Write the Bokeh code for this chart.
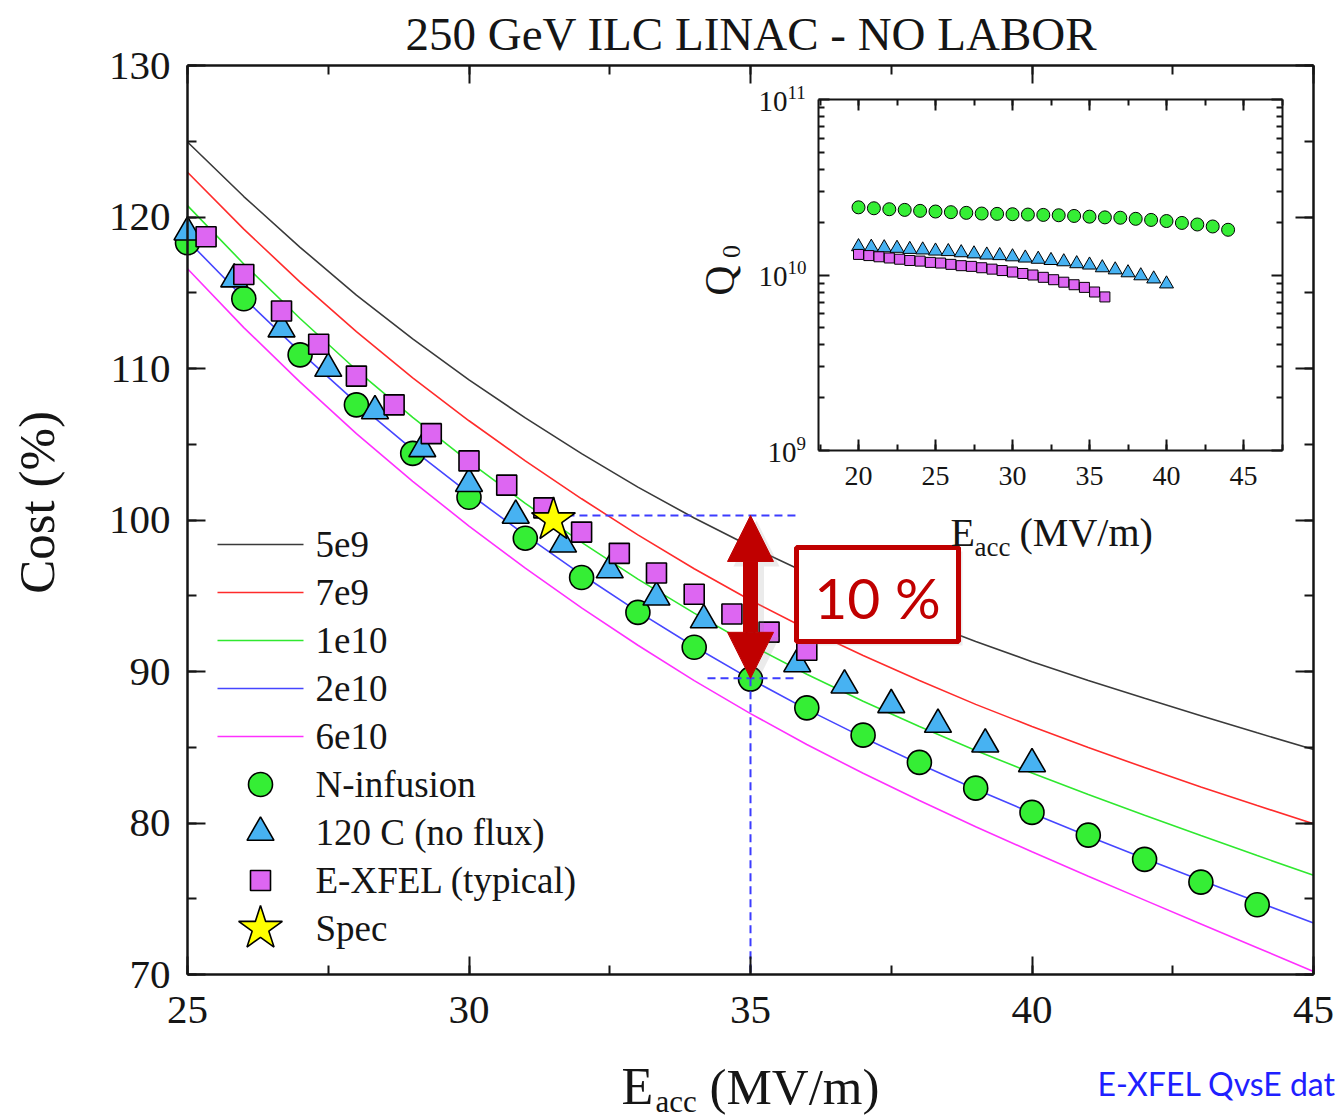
import math
from bokeh.plotting import figure
from bokeh.models import (Range1d, LinearAxis, LogAxis, LogScale, SingleIntervalTicker,
                          FixedTicker, Label, Arrow, NormalHead, CustomJSTickFormatter)
from bokeh.embed import file_html
from bokeh.resources import INLINE

# ---------------- data ----------------
# relative linac cost (%) versus gradient, one curve per Q0
e_curve = [25, 26, 27, 28, 29, 30, 31, 32, 33, 34, 35, 36, 37, 38, 39, 40, 41, 42, 43, 44, 45]
cost_q5e9 = [124.95, 121.35, 118.00, 114.85, 111.95, 109.25, 106.74, 104.38, 102.17, 100.13, 98.25,
             96.50, 94.90, 93.40, 91.98, 90.65, 89.41, 88.23, 87.08, 85.95, 84.85]
cost_q7e9 = [122.95, 119.20, 115.70, 112.43, 109.38, 106.55, 103.90, 101.40, 99.02, 96.78, 94.70,
             92.80, 91.05, 89.40, 87.83, 86.37, 84.98, 83.66, 82.37, 81.15, 79.95]
cost_q1e10 = [120.75, 116.90, 113.30, 109.90, 106.77, 103.85, 101.10, 98.52, 96.10, 93.85, 91.75,
              89.82, 88.04, 86.37, 84.79, 83.30, 81.88, 80.51, 79.17, 77.85, 76.55]
cost_q2e10 = [118.45, 114.65, 111.10, 107.75, 104.65, 101.75, 99.00, 96.40, 93.95, 91.65, 89.50,
              87.50, 85.65, 83.90, 82.23, 80.65, 79.13, 77.66, 76.22, 74.80, 73.40]
cost_q6e10 = [116.58, 112.70, 109.10, 105.70, 102.55, 99.60, 96.82, 94.20, 91.73, 89.40, 87.22,
              85.18, 83.28, 81.48, 79.75, 78.10, 76.48, 74.91, 73.34, 71.77, 70.20]
curve_labels = ["5e9", "7e9", "1e10", "2e10", "6e10"]
curve_colors = ["#3a3a3a", "#ff2b2b", "#2fe82f", "#4646ff", "#ff30ff"]

# cost using measured Q0(E) of each cavity treatment
e_ninf = [25, 26, 27, 28, 29, 30, 31, 32, 33, 34, 35, 36, 37, 38, 39, 40, 41, 42, 43, 44]
cost_ninf = [118.3, 114.6, 110.9, 107.6, 104.4, 101.5, 98.8, 96.2, 93.9, 91.6, 89.5,
             87.6, 85.8, 84.0, 82.3, 80.7, 79.2, 77.6, 76.1, 74.6]
e_120c = [25.0, 25.83, 26.67, 27.5, 28.33, 29.17, 30.0, 30.83, 31.67, 32.5, 33.33, 34.17,
          35.0, 35.83, 36.67, 37.5, 38.33, 39.17, 40.0]
cost_120c = [119.0, 115.9, 112.6, 110.0, 107.2, 104.7, 102.4, 100.3, 98.4, 96.7, 94.9, 93.4,
             92.0, 90.5, 89.1, 87.8, 86.5, 85.2, 83.9]
e_xfel = [25.33, 26.0, 26.67, 27.33, 28.0, 28.67, 29.33, 30.0, 30.67, 31.33, 32.0, 32.67,
          33.33, 34.0, 34.67, 35.33, 36.0]
cost_xfel = [118.7, 116.2, 113.8, 111.6, 109.5, 107.6, 105.7, 103.9, 102.3, 100.8, 99.2, 97.8,
             96.5, 95.1, 93.8, 92.6, 91.4]
spec_e = [31.5]
spec_cost = [100.0]
ref_hi = 100.3     # spec cost level
ref_lo = 89.55     # N-infusion cost at 35 MV/m
ref_e = 35.0

# inset: Q0 versus gradient (Q0 in units of 1e10)
q_e_ninf = [20, 21, 22, 23, 24, 25, 26, 27, 28, 29, 30, 31, 32, 33, 34, 35, 36, 37, 38, 39,
            40, 41, 42, 43, 44]
q_ninf = [2.43, 2.40, 2.37, 2.35, 2.32, 2.30, 2.28, 2.26, 2.24, 2.23, 2.22, 2.21, 2.20, 2.19,
          2.17, 2.15, 2.13, 2.12, 2.09, 2.06, 2.03, 1.98, 1.94, 1.89, 1.81]
q_e_120c = [20.0, 20.83, 21.67, 22.5, 23.33, 24.17, 25.0, 25.83, 26.67, 27.5, 28.33, 29.17,
            30.0, 30.83, 31.67, 32.5, 33.33, 34.17, 35.0, 35.83, 36.67, 37.5, 38.33, 39.17, 40.0]
q_120c = [1.45, 1.44, 1.43, 1.42, 1.40, 1.39, 1.37, 1.36, 1.34, 1.32, 1.30, 1.29, 1.27, 1.25,
          1.23, 1.21, 1.19, 1.16, 1.14, 1.10, 1.07, 1.03, 0.99, 0.95, 0.89]
q_e_xfel = [20.0, 20.67, 21.33, 22.0, 22.67, 23.33, 24.0, 24.67, 25.33, 26.0, 26.67, 27.33,
            28.0, 28.67, 29.33, 30.0, 30.67, 31.33, 32.0, 32.67, 33.33, 34.0, 34.67, 35.33, 36.0]
q_xfel = [1.31, 1.29, 1.27, 1.25, 1.23, 1.21, 1.20, 1.18, 1.17, 1.15, 1.13, 1.12, 1.10, 1.08,
          1.06, 1.04, 1.02, 1.00, 0.97, 0.94, 0.91, 0.88, 0.85, 0.80, 0.75]

# ---------------- geometry ----------------
# The drawing frame covers the whole canvas; the main plot box sits at
# FL..FR x FT..FB pixels and all axes are drawn at fixed locations.
W, H = 1338, 1120
FL, FR, FT, FB = 187, 1313, 65, 974
X_LO, X_HI, Y_LO, Y_HI = 25, 45, 70, 130


def mx(px):
    return X_LO + (px - FL) * (X_HI - X_LO) / (FR - FL)


def my(py):
    return Y_LO + (FB - py) * (Y_HI - Y_LO) / (FB - FT)


# inset placement: pixel columns of E=20 and E=45, pixel rows of Q=1e11 and Q=1e9
IX20, IX45, IQ11, IQ9 = 858, 1243, 99, 450
IBOX_L, IBOX_R = 818, 1282
ix_per_px = 25.0 / (IX45 - IX20)
dec_per_px = 2.0 / (IQ9 - IQ11)


def ix(px):
    return 20 + (px - IX20) * ix_per_px


def iq(py):
    return 10 ** (9 + (IQ9 - py) * dec_per_px)


SERIF = "Liberation Serif"
RED = "#c00000"
DASH_BLUE = "#3c3cff"
INK = "#151515"

p = figure(width=W, height=H, x_range=Range1d(mx(0), mx(W)), y_range=Range1d(my(H), my(0)),
           output_backend="svg", toolbar_location=None,
           x_axis_location=None, y_axis_location=None,
           min_border_left=0, min_border_right=0, min_border_top=0, min_border_bottom=0,
           background_fill_color="white", border_fill_color="white")
p.outline_line_color = None
p.grid.visible = False

p.extra_x_ranges = {"ix": Range1d(ix(0), ix(W))}
p.extra_y_ranges = {"iq": Range1d(iq(H), iq(0))}
p.extra_y_scales = {"iq": LogScale()}

blank = CustomJSTickFormatter(code="return ''")


def style_axis(ax, labels, major=18, minor=9, width=2.5, font="41px", standoff=16):
    ax.axis_line_width = width
    ax.axis_line_color = INK
    ax.major_tick_in = major
    ax.major_tick_out = 0
    ax.minor_tick_in = minor
    ax.minor_tick_out = 0
    ax.major_tick_line_width = 2
    ax.minor_tick_line_width = 2
    ax.major_tick_line_color = INK
    ax.minor_tick_line_color = INK
    ax.major_label_text_font = SERIF
    ax.major_label_text_color = INK
    if labels:
        ax.major_label_text_font_size = font
        ax.major_label_standoff = standoff
    else:
        ax.formatter = blank
        ax.major_label_standoff = 0


def text(x, y, s, size, font=SERIF, color=INK, align="left", angle=0.0, **kw):
    p.add_layout(Label(x=x, y=y, text=s, text_font=font, text_font_size=size, text_color=color,
                       text_align=align, text_baseline="middle", angle=angle, **kw))


# ---------------- main axes (box) ----------------
xb = LinearAxis(fixed_location=Y_LO, bounds=(X_LO, X_HI),
                ticker=SingleIntervalTicker(interval=5, num_minor_ticks=2))
style_axis(xb, True, standoff=22)
xt = LinearAxis(fixed_location=Y_HI, bounds=(X_LO, X_HI),
                ticker=SingleIntervalTicker(interval=5, num_minor_ticks=2))
style_axis(xt, False)
yl = LinearAxis(fixed_location=X_LO, bounds=(Y_LO, Y_HI),
                ticker=SingleIntervalTicker(interval=10, num_minor_ticks=2))
style_axis(yl, True, standoff=17)
yr = LinearAxis(fixed_location=X_HI, bounds=(Y_LO, Y_HI),
                ticker=SingleIntervalTicker(interval=10, num_minor_ticks=2))
style_axis(yr, False)
p.add_layout(xb, "below")
p.add_layout(xt, "above")
p.add_layout(yl, "left")
p.add_layout(yr, "right")

# ---------------- cost curves ----------------
for ys, col in zip([cost_q5e9, cost_q7e9, cost_q1e10, cost_q2e10, cost_q6e10], curve_colors):
    p.line(e_curve, ys, line_color=col, line_width=1.6)

# ---------------- measured points ----------------
C_GREEN, C_BLUE, C_VIOLET = "#35ee35", "#47b2f2", "#dd66f2"
p.scatter(e_ninf, cost_ninf, marker="circle", size=24, fill_color=C_GREEN,
          line_color="black", line_width=1.6)
p.scatter(e_120c, cost_120c, marker="triangle", size=27, fill_color=C_BLUE,
          line_color="black", line_width=1.6)
p.scatter(e_xfel, cost_xfel, marker="square", size=20, fill_color=C_VIOLET,
          line_color="black", line_width=1.6)

# reference lines: spec level, N-infusion level at 35 MV/m
p.line([spec_e[0], mx(795)], [ref_hi, ref_hi], line_color=DASH_BLUE, line_width=2, line_dash="8 5")
p.line([mx(707), mx(795)], [ref_lo, ref_lo], line_color=DASH_BLUE, line_width=2, line_dash="8 5")
p.line([ref_e, ref_e], [ref_lo, Y_LO], line_color=DASH_BLUE, line_width=2, line_dash="8 5")

p.scatter(spec_e, spec_cost, marker="star", size=46, fill_color="#ffff00",
          line_color="black", line_width=1.6)

# 10 % double arrow with a soft shadow
shadow_dx, shadow_dy = mx(FL + 6) - mx(FL), my(FT + 5) - my(FT)
p.add_layout(Arrow(start=NormalHead(size=46, fill_color="#909090", fill_alpha=0.18, line_alpha=0.0),
                   end=NormalHead(size=46, fill_color="#909090", fill_alpha=0.18, line_alpha=0.0),
                   x_start=ref_e + shadow_dx, y_start=ref_hi + shadow_dy,
                   x_end=ref_e + shadow_dx, y_end=ref_lo + shadow_dy,
                   line_color="#909090", line_alpha=0.18, line_width=15))
p.add_layout(Arrow(start=NormalHead(size=46, fill_color=RED, line_color=RED, line_width=1),
                   end=NormalHead(size=46, fill_color=RED, line_color=RED, line_width=1),
                   x_start=ref_e, y_start=ref_hi, x_end=ref_e, y_end=ref_lo,
                   line_color=RED, line_width=15))

# callout box
p.quad(left=mx(800), right=mx(962), top=my(551), bottom=my(645),
       fill_color="#999999", fill_alpha=0.2, line_color=None)
p.quad(left=mx(796), right=mx(958), top=my(547), bottom=my(641),
       fill_color="white", line_color=RED, line_width=5)
text(mx(877), my(596), "10 %", "57px", font="Lato", color=RED, align="center")

# ---------------- inset: Q0 vs Eacc ----------------
p.quad(left=ix(IBOX_L), right=ix(IBOX_R), bottom=1e9, top=1e11, x_range_name="ix",
       y_range_name="iq", fill_color="white", line_color=None)

ibounds = (ix(IBOX_L), ix(IBOX_R))
q_minor = [k * 1e9 for k in range(2, 10)] + [k * 1e10 for k in range(2, 10)]

ib = LinearAxis(x_range_name="ix", y_range_name="iq", fixed_location=1e9, bounds=ibounds,
                ticker=SingleIntervalTicker(interval=5, num_minor_ticks=2))
style_axis(ib, True, major=11, minor=6, width=2, font="28px", standoff=16)
it = LinearAxis(x_range_name="ix", y_range_name="iq", fixed_location=1e11, bounds=ibounds,
                ticker=SingleIntervalTicker(interval=5, num_minor_ticks=2))
style_axis(it, False, major=11, minor=6, width=2)
il = LogAxis(x_range_name="ix", y_range_name="iq", fixed_location=ix(IBOX_L), bounds=(1e9, 1e11),
             ticker=FixedTicker(ticks=[1e9, 1e10, 1e11], minor_ticks=q_minor))
style_axis(il, False, major=11, minor=6, width=2)
ir = LogAxis(x_range_name="ix", y_range_name="iq", fixed_location=ix(IBOX_R), bounds=(1e9, 1e11),
             ticker=FixedTicker(ticks=[1e9, 1e10, 1e11], minor_ticks=q_minor))
style_axis(ir, False, major=11, minor=6, width=2)
p.add_layout(ib, "below")
p.add_layout(it, "above")
p.add_layout(il, "left")
p.add_layout(ir, "right")

p.scatter(q_e_ninf, [v * 1e10 for v in q_ninf], marker="circle", size=13, fill_color=C_GREEN,
          line_color="black", line_width=1, x_range_name="ix", y_range_name="iq")
p.scatter(q_e_120c, [v * 1e10 for v in q_120c], marker="triangle", size=14, fill_color=C_BLUE,
          line_color="black", line_width=1, x_range_name="ix", y_range_name="iq")
p.scatter(q_e_xfel, [v * 1e10 for v in q_xfel], marker="square", size=10, fill_color=C_VIOLET,
          line_color="black", line_width=1, x_range_name="ix", y_range_name="iq")

# decade labels 10^n
for expo, py in [("11", IQ11), ("10", 274), ("9", IQ9)]:
    sx = 805 - 9 * len(expo)
    text(ix(sx), iq(py + 2), "10", "29px", align="right", x_range_name="ix", y_range_name="iq")
    text(ix(sx), iq(py - 7), expo, "19px", x_range_name="ix", y_range_name="iq")

# inset axis titles
text(mx(719), my(280), "Q", "42px", align="center", angle=math.pi / 2)
text(mx(731), my(251), "0", "26px", align="center", angle=math.pi / 2)
text(mx(950), my(532), "E", "40px")
text(mx(974), my(546), "acc", "27px")
text(mx(1019), my(532), "(MV/m)", "40px")

# ---------------- legend ----------------
LEG_X0, LEG_X1, LEG_MX, LEG_TX = 217, 303, 260, 315
ROW0, ROW_STEP = 544, 48
for k, (lab, col) in enumerate(zip(curve_labels, curve_colors)):
    ry = my(ROW0 + k * ROW_STEP)
    p.line([mx(LEG_X0), mx(LEG_X1)], [ry, ry], line_color=col, line_width=1.6)
marker_keys = [("N-infusion", "circle", 24, C_GREEN), ("120 C (no flux)", "triangle", 27, C_BLUE),
               ("E-XFEL (typical)", "square", 20, C_VIOLET), ("Spec", "star", 46, "#ffff00")]
for k, (lab, mk, sz, col) in enumerate(marker_keys):
    ry = my(ROW0 + (k + 5) * ROW_STEP)
    p.scatter([mx(LEG_MX)], [ry], marker=mk, size=sz, fill_color=col, line_color="black",
              line_width=1.6)
all_labels = curve_labels + [m[0] for m in marker_keys]
for k, lab in enumerate(all_labels):
    text(mx(LEG_TX), my(ROW0 + k * ROW_STEP), lab, "37px")

# ---------------- titles ----------------
text(mx(751), my(33), "250 GeV ILC LINAC - NO LABOR", "47px", align="center")
text(mx(36), my(502), "Cost (%)", "51px", align="center", angle=math.pi / 2)
text(mx(621), my(1086), "E", "52px")
text(mx(655), my(1101), "acc", "31px")
text(mx(709), my(1086), "(MV/m)", "51px")
text(mx(1097), my(1083), "E-XFEL QvsE dat", "32px", font="Lato", color="#1f1fff")

open("out.html", "w").write(file_html(p, INLINE))
